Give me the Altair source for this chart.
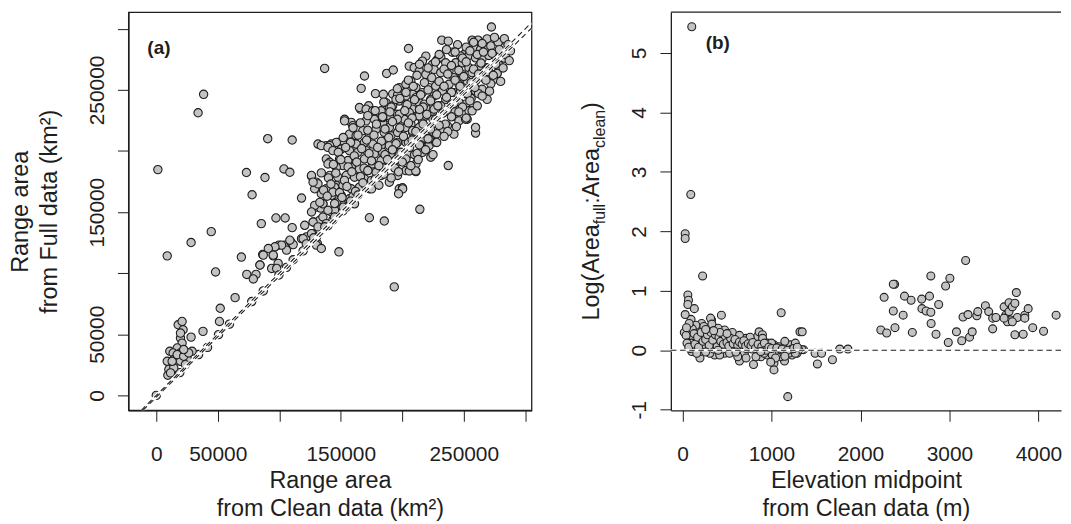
import altair as alt
import pandas as pd

# ---------------- Panel (a): range area, clean vs full (km2) ----------------
a_clean = [
    272500, 232100, 237400, 256800, 261700, 269000, 205100, 136900, 38500, 34000,
    1300, 90600, 110500, 73300, 88400, 103800, 108600, 77900, 118100, 237400,
    214300, 169300, 166600, 187300, 192700, 178200, 184600, 192200, 196200, 172700,
    166000, 153100, 158500, 131500, 138300, 142300, 147700, 138300, 141000, 126200,
    130200, 128800, 134200, 142800, 135500, 130200, 146400, 259600, 277100, 203000,
    211100, 197600, 200200, 173300, 185400,
    8900, 28300, 44700, 48200, 69200, 85400, 97300, 104800, 110500, 86500,
    95100, 99100, 93800, 97900, 84300, 81100, 73600, 78900, 99700, 104600,
    105900, 109400, 111300, 118100, 122100, 127000, 131000, 127800, 132900, 135500,
    133700, 142300, 145000, 151700, 161200, 148500, 193500,
    0, 19100, 34400, 41700, 50600, 59500, 77600, 87000, 99700, 105900,
    111300, 119400, 130200, 139600, 143600, 151700,
    17800, 21000, 21800, 19700, 28300, 21000, 17000, 11000, 13700, 19700,
    23700, 29100, 8900, 14200, 19700, 25100, 10200, 14200, 9400, 11600,
    38000, 52000, 51400, 64100, 23700, 12900, 17000, 22300, 26400, 19700, 22300,
    267700, 259600, 263600, 240700, 250100, 247500, 254200, 259600, 264900, 270400,
    275800, 281100, 219200, 216400, 228500, 231300, 224500, 235300, 243400, 248800,
    254200, 262300, 269000, 277100, 274400, 267700, 262300, 256800, 205700, 209700,
    213800, 219200, 225900, 231300, 238000, 242000, 248800, 252800, 246100, 238000,
    197600, 203000, 207000, 211100, 208400, 216400, 221800, 227200, 232600, 225900,
    235300, 242000, 247500, 252800, 259600, 264900, 186800, 192200, 197600, 203000,
    208400, 213800, 219200, 224500, 231300, 236700, 242000, 246100, 251500, 254200,
    246100, 252800, 259600, 181400, 188100, 194900, 201600, 207000, 212400, 216400,
    221800, 227200, 231300, 236700, 242000, 223200, 215100, 208400, 197600, 189500,
    184100,
    165200, 170600, 176000, 182800, 189500, 194900, 203000, 211100, 217800, 223200,
    225900, 219200, 213800, 205700, 197600, 189500, 184100, 177300, 170600, 153100,
    159800, 157100, 162500, 167900, 173300, 178700, 185400, 190800, 196200, 203000,
    208400, 213800, 220500, 224500, 216400, 209700, 203000, 196200, 189500, 182800,
    176000, 169300, 162500, 157100, 151700, 146400, 141000, 134200, 139600, 143600,
    150400, 157100, 163800, 170600, 177300, 184100, 190800, 197600, 205700, 211100,
    216400, 223200, 221800, 227200, 149000, 155800, 162500, 169300, 176000, 182800,
    189500, 196200, 203000, 211100, 178700, 171900, 165200, 158500, 151700, 146400,
    139600, 141000, 147700, 154500, 161200, 169300, 176000, 182800, 189500, 196200,
    173300, 165200, 158500, 151700, 145000, 138300, 131500, 126200, 127500, 143600,
    150400, 157100, 162500, 146400, 154500, 134200, 135500, 139600, 128800, 126200,
    120700, 127500, 131500, 138300, 119400, 126200, 108600, 101900, 96500, 91100,
    87000, 95100, 84300, 130200, 134200, 205700, 211000, 200300, 197000,
    160000, 170000, 175000, 185000, 195000, 205000, 215000, 225000, 240000, 250000,
    260000, 270000, 280000, 287000, 152000, 145000, 137000, 128000, 122000,
    256800, 251500, 269000,
    215000, 228000, 243000, 256000, 262000, 272000, 279000, 283000, 235000, 246000,
    268000, 222000, 210000,
    245000, 252000, 258000, 265000, 272000, 278000, 283000, 286000, 275000,
    230000, 236000, 243000, 249000, 255000, 261000, 266000, 273000, 279000, 284000, 288000,
    214000, 221000, 227000, 234000, 240000, 246000, 252000, 258000, 264000, 270000, 276000, 282000, 287000,
    205000, 212000, 218000, 224000, 230000, 237000, 243000, 250000, 256000, 262000, 268000, 274000, 280000,
    196000, 203000, 209000, 215000, 221000, 228000, 234000, 240000, 247000, 253000, 259000, 265000, 271000,
    185000, 191000, 198000, 204000, 210000, 217000, 223000, 229000, 236000, 242000, 249000, 255000, 261000,
    172000, 178000, 184000, 190000, 196000, 202000, 208000, 214000, 220000, 227000, 233000, 240000, 246000, 252000,
    160000, 166000, 172000, 179000, 186000, 192000, 198000, 205000, 211000, 217000, 223000, 230000, 237000, 244000,
    152000, 158000, 164000, 171000, 177000, 183000, 189000, 195000, 201000, 208000, 214000, 221000, 228000, 234000,
    148000, 154000, 161000, 167000, 173000, 180000, 186000, 192000, 199000, 206000, 212000, 219000, 225000,
    144000, 150000, 156000, 163000, 169000, 175000, 181000, 188000, 194000, 200000, 207000, 213000,
    140000, 146000, 153000, 159000, 166000, 172000, 178000, 185000, 191000, 197000,
    136000, 142000, 149000, 155000, 162000, 168000, 175000, 181000,
    133000, 139000, 145000, 151000, 158000, 164000,
]
a_full = [
    301500, 290700, 289900, 290700, 290700, 291800, 283900, 267600, 246400, 231300,
    184800, 210100, 209000, 182400, 178300, 185300, 182600, 164200, 161500, 188100,
    152300, 261400, 251300, 263500, 266300, 247000, 246400, 246800, 246000, 237000,
    234200, 226000, 223400, 205700, 204400, 205700, 207100, 193500, 190800, 179400,
    174500, 169100, 182100, 163700, 156800, 154100, 171800, 214700, 263500, 184000,
    183200, 169100, 169900, 145400, 142700,
    114200, 125100, 134000, 101000, 113200, 140600, 145200, 145200, 137300, 115300,
    114200, 108000, 103900, 103900, 106700, 99000, 99000, 95300, 123000, 123000,
    118900, 125600, 123400, 128300, 129700, 132400, 124300, 141900, 143300, 146000,
    153300, 150100, 151500, 155500, 156800, 117500, 88800,
    0, 18600, 33400, 39300, 49700, 58300, 76800, 85500, 98500, 104800,
    111000, 118300, 129500, 139000, 143600, 151000,
    57800, 60500, 53700, 46900, 47700, 42800, 38800, 36100, 34700, 34700,
    34700, 36100, 27900, 29300, 27900, 30600, 21200, 22500, 16500, 18400,
    52400, 71300, 60500, 80000, 25200, 27900, 33400, 32000, 34700, 51000, 37500,
    284400, 283600, 283100, 280900, 279000, 277700, 278200, 276300, 275500, 278200,
    277700, 284400, 277700, 273600, 274900, 276900, 270800, 272200, 272200, 272200,
    268200, 269500, 268200, 263500, 258600, 258600, 261400, 264100, 269500, 268200,
    265500, 262700, 266800, 264100, 265500, 260000, 262700, 257300, 254600, 254600,
    251900, 254600, 257300, 251900, 246400, 247800, 251900, 253200, 249200, 245100,
    242300, 247800, 249200, 246400, 249200, 250500, 239600, 237000, 241000, 238300,
    234200, 239600, 235600, 231500, 237000, 232900, 228800, 235600, 238300, 232900,
    224700, 226000, 219300, 231500, 227400, 230100, 226000, 222000, 228800, 223400,
    219300, 224700, 217900, 220700, 213800, 211200, 212500, 215200, 217900, 219300,
    223400,
    235600, 234200, 232900, 232900, 235600, 242300, 245100, 243700, 238300, 242300,
    234200, 228800, 228800, 231500, 230100, 228800, 227400, 226000, 224700, 224700,
    220700, 213800, 212500, 216600, 213800, 217900, 215200, 212500, 215200, 219300,
    216600, 219300, 216600, 212500, 209700, 208400, 207000, 207000, 204400, 204400,
    205700, 207100, 205700, 207100, 208400, 207100, 204400, 204400, 203000, 200300,
    201600, 200300, 198900, 200300, 197600, 198900, 196200, 198900, 197600, 196200,
    198900, 194900, 204400, 207100, 193500, 192200, 190800, 193500, 189400, 192200,
    189400, 190800, 193500, 189400, 182600, 184000, 185300, 186700, 188100, 186700,
    189400, 180000, 178600, 180000, 178600, 177200, 175900, 180000, 174500, 180000,
    169100, 170400, 169100, 171800, 170400, 169100, 173100, 180000, 174500, 166400,
    163700, 160900, 165000, 158200, 154100, 165000, 156800, 151500, 155500, 150100,
    139200, 141900, 137900, 140600, 128300, 132400, 127000, 123000, 121600, 120200,
    114800, 114800, 106700, 123000, 120200, 183700, 183700, 169000, 165000,
    163000, 172000, 176000, 186000, 193000, 207000, 214000, 226000, 238000, 250000,
    258000, 268000, 279000, 286000, 154000, 146000, 138000, 129000, 124000,
    232900, 226000, 242300,
    205000, 214000, 232000, 243000, 247000, 255000, 270000, 276000, 222000, 240000,
    262000, 210000, 197000,
    287000, 285000, 289000, 288000, 286000, 289000, 292000, 287000, 293000,
    279000, 283000, 281000, 276000, 282000, 279000, 281000, 280000, 283000, 279000, 282000,
    271000, 268000, 273000, 267000, 270000, 266000, 273000, 267000, 272000, 265000, 271000, 268000, 274000,
    258000, 262000, 256000, 260000, 257000, 263000, 258000, 261000, 256000, 263000, 258000, 262000, 257000,
    251000, 248000, 253000, 246000, 250000, 246000, 253000, 248000, 253000, 247000, 252000, 245000, 249000,
    240000, 236000, 243000, 238000, 242000, 236000, 241000, 237000, 244000, 239000, 236000, 241000, 237000,
    229000, 233000, 228000, 232000, 226000, 233000, 227000, 234000, 230000, 226000, 231000, 228000, 232000, 227000,
    219000, 223000, 217000, 222000, 218000, 224000, 219000, 223000, 216000, 222000, 218000, 221000, 216000, 220000,
    211000, 207000, 213000, 209000, 213000, 208000, 211000, 206000, 212000, 209000, 205000, 210000, 207000, 212000,
    199000, 203000, 196000, 202000, 198000, 203000, 197000, 201000, 199000, 203000, 198000, 201000, 197000,
    189000, 193000, 187000, 191000, 186000, 192000, 188000, 193000, 186000, 191000, 188000, 193000,
    178000, 182000, 176000, 183000, 179000, 184000, 177000, 181000, 178000, 183000,
    168000, 173000, 166000, 171000, 167000, 174000, 169000, 172000,
    158000, 163000, 157000, 162000, 159000, 164000,
]

# reference lines of panel (a): 1:1 line and fitted line
one_x = [-12200, 305100]
one_y = [-12200, 305100]
fit_x = [-10800, 305100]
fit_y = [-12200, 300550]

# ---------------- Panel (b): elevation midpoint vs log ratio ----------------
b_elev = [
    104, 93, 30, 30, 226, 60, 67, 60, 133, 96, 326, 437, 1109, 1320, 1345,
    60, 104, 177, 271, 399, 473,
    122, 160, 196, 252, 307, 362, 418, 473, 529, 603, 659, 732, 806, 861, 880,
    954, 1028, 1083, 1157, 1213, 1268, 1360,
    104, 196, 362, 473, 640, 798, 880, 1028, 1028, 1146, 1286, 1490, 1516, 1563,
    1685, 1767, 1859, 548, 695, 954, 1102, 1231, 1183,
    315, 215, 271, 399, 307, 399, 492, 714, 843, 861, 898,
    1342, 1139, 1028, 935, 825, 714, 603, 492, 381, 271, 104, 85, 196, 307, 418,
    529, 621, 714, 825, 917, 1009, 1046, 1194, 991, 1305, 1268,
    150, 240, 330, 560, 640, 760, 900, 1000, 1150, 650, 780, 870, 1100, 1230,
    450, 350, 250, 150, 560,
    20, 40, 50, 70, 80, 110, 130, 140, 170, 180, 210, 230, 260, 280, 300, 320,
    340, 370, 390, 410, 430, 460, 480, 500, 520, 540, 570, 590, 620, 640, 670,
    690, 710, 740, 770, 790, 820, 850, 890, 920, 940, 970, 1000, 1060, 1120, 1180,
    1250, 1290, 30, 75, 45, 160, 260, 400, 600, 880, 1150, 420, 260, 500, 350,
    3182, 2791, 3005, 2957, 2384, 2369, 2266, 2495, 2569, 2688, 2776, 2879, 2691,
    2738, 2791, 2369, 2480, 2794, 2229, 2295, 2388, 2583, 2849, 2987, 3079, 3138,
    3226, 3256, 3153, 3209, 3308, 3319, 3404, 3441, 3486, 3486, 3522, 3614, 3633,
    3670, 3670, 3689, 3707, 3736, 3752, 3763, 3652, 3614, 3707, 3847, 3885, 3847,
    3736, 3829, 3936, 4058, 4199,
]
b_logratio = [
    5.44, 2.62, 1.96, 1.88, 1.25, 0.93, 0.84, 0.77, 0.70, 0.52, 0.51, 0.59, 0.63, 0.31, 0.31,
    0.31, 0.31, 0.34, 0.31, 0.34, 0.34,
    0.20, 0.26, 0.17, 0.23, 0.15, 0.20, 0.12, 0.17, 0.15, 0.12, 0.15, 0.19, 0.12, 0.28, 0.15,
    0.12, 0.09, 0.06, 0.06, 0.09, 0.12, 0.01,
    -0.02, -0.13, -0.08, -0.05, -0.18, -0.24, -0.11, -0.22, -0.33, -0.18, -0.05, -0.05, -0.23, -0.05,
    -0.16, 0.02, 0.02, -0.02, -0.05, -0.08, -0.11, -0.08, -0.78,
    0.54, 0.45, 0.37, 0.37, 0.23, 0.20, 0.20, 0.20, 0.23, 0.31, 0.26,
    0.01, -0.05, 0.06, 0.03, 0.06, 0.03, 0.06, 0.09, 0.12, 0.09, 0.12, 0.03, -0.02, -0.05, -0.08,
    -0.05, -0.11, -0.13, -0.11, -0.05, -0.08, -0.13, -0.05, -0.20, 0.01, -0.05,
    0.42, 0.40, 0.44, 0.30, 0.25, 0.22, 0.20, 0.12, 0.15, 0.05, 0.02, 0.05, 0.02, 0.02,
    0.02, 0.02, 0.05, 0.05, 0.08,
    0.30, 0.25, 0.12, 0.05, 0.40, 0.36, 0.28, 0.10, 0.22, 0.05, 0.30, 0.15, 0.18, 0.26, 0.08, 0.30,
    0.17, 0.26, 0.06, 0.22, 0.15, 0.10, 0.24, 0.13, 0.07, 0.20, 0.11, 0.18, 0.08, 0.14, 0.10,
    0.16, 0.07, 0.11, 0.08, 0.13, 0.03, 0.10, 0.06, 0.12, 0.00, 0.05, 0.03, 0.04, 0.02, 0.00,
    0.03, 0.05, 0.60, 0.45, 0.38, -0.05, -0.03, 0.00, -0.03, -0.02, -0.10, 0.30, 0.35, 0.28, 0.33,
    1.51, 1.25, 1.21, 1.08, 1.11, 1.11, 0.89, 0.91, 0.84, 0.86, 0.91, 0.77, 0.70,
    0.66, 0.64, 0.66, 0.59, 0.45, 0.34, 0.29, 0.38, 0.30, 0.27, 0.13, 0.31, 0.16,
    0.22, 0.31, 0.56, 0.60, 0.58, 0.65, 0.75, 0.65, 0.54, 0.36, 0.55, 0.73, 0.59,
    0.80, 0.65, 0.51, 0.73, 0.79, 0.97, 0.55, 0.48, 0.54, 0.48, 0.59, 0.70, 0.54,
    0.26, 0.27, 0.38, 0.32, 0.59,
]

# y-axis title pieces of panel (b)
b_title_text = ["Log(Area", "full", ":Area", "clean", ")"]
b_title_size = [23.5, 16, 23.5, 16, 23.5]

# ------------------------------------------------------------------
FONT = "Liberation Sans"
INK = "#1e1e1e"
PT_FILL = "#c3c3c3"

A_W, A_H = 405, 400
B_W, B_H = 392, 400
A_X = [-22640, 305100]
A_Y = [-12220, 313620]
B_X = [-131, 4254]
B_Y = [-1.01, 5.685]

a_df = pd.DataFrame({"clean": a_clean, "full": a_full})
b_df = pd.DataFrame({"elev": b_elev, "ratio": b_logratio})
lines_df = pd.DataFrame({
    "x": one_x + fit_x,
    "y": one_y + fit_y,
    "g": ["one", "one", "fit", "fit"],
})

a_ticks = [0, 50000, 100000, 150000, 200000, 250000, 300000]
hide_expr = "(datum.value == 100000 || datum.value == 200000 || datum.value == 300000) ? '' : datum.label"

common_axis = dict(
    grid=False, tickSize=11, tickWidth=1, tickColor=INK,
    domainColor=INK, domainWidth=1.3,
    labelFont=FONT, labelFontSize=21, labelColor=INK,
    titleFont=FONT, titleFontSize=23.5, titleFontWeight="normal", titleColor=INK,
    labelOverlap=False, labelFlush=False, labelBound=False,
)

X_LABEL_PAD = 39
X_TITLE_Y = 78
X_TITLE_LH = 28

ax_a_x = alt.Axis(
    values=a_ticks, format="d", labelExpr=hide_expr,
    labelBaseline="alphabetic", labelPadding=X_LABEL_PAD, labelAlign="center",
    title=["Range area", "from Clean data (km²)"],
    titleBaseline="alphabetic", titleY=X_TITLE_Y, titleLineHeight=X_TITLE_LH, titleAlign="center",
    **common_axis,
)
ax_a_y = alt.Axis(
    values=a_ticks, format="d", labelExpr=hide_expr,
    labelAngle=270, labelAlign="center", labelBaseline="alphabetic", labelPadding=14.5,
    title=["Range area", "from Full data (km²)"],
    titleAngle=270, titleAlign="center", titleBaseline="alphabetic",
    titleX=-101.2, titleY=A_H / 2, titleLineHeight=28.5,
    **common_axis,
)

xa = alt.X("clean:Q", scale=alt.Scale(domain=A_X, nice=False, zero=False), axis=ax_a_x)
ya = alt.Y("full:Q", scale=alt.Scale(domain=A_Y, nice=False, zero=False), axis=ax_a_y)

pts_a = alt.Chart(a_df).mark_circle(
    size=70, color=PT_FILL, opacity=1, stroke=INK, strokeWidth=1.1
).encode(x=xa, y=ya)

line_white = alt.Chart(lines_df).mark_line(color="white", strokeWidth=3, clip=True).encode(
    x=alt.X("x:Q"), y=alt.Y("y:Q"), detail="g:N")
line_dash = alt.Chart(lines_df).mark_line(
    color=INK, strokeWidth=1.1, strokeDash=[5.5, 3.7], clip=True
).encode(x=alt.X("x:Q"), y=alt.Y("y:Q"), detail="g:N")

lab_a = alt.Chart(pd.DataFrame({"t": ["(a)"]})).mark_text(
    font=FONT, fontSize=19, fontWeight="bold", color=INK, align="left", baseline="alphabetic"
).encode(text="t:N", x=alt.value(19), y=alt.value(42))

panel_a = alt.layer(pts_a, line_white, line_dash, lab_a).properties(
    width=A_W, height=A_H,
    view=alt.ViewBackground(stroke=INK, strokeWidth=1.3, fill="white"),
)

# ---------------- panel (b) ----------------
ax_b_x = alt.Axis(
    values=[0, 1000, 2000, 3000, 4000], format="d",
    labelBaseline="alphabetic", labelPadding=X_LABEL_PAD, labelAlign="center",
    title=["Elevation midpoint", "from Clean data (m)"],
    titleBaseline="alphabetic", titleY=X_TITLE_Y, titleLineHeight=X_TITLE_LH, titleAlign="center",
    **common_axis,
)
ax_b_y = alt.Axis(
    values=[-1, 0, 1, 2, 3, 4, 5], labelExpr="'' + datum.value",
    labelAngle=270, labelAlign="center", labelBaseline="alphabetic", labelPadding=14.5,
    title=None,
    **common_axis,
)
xb = alt.X("elev:Q", scale=alt.Scale(domain=B_X, nice=False, zero=False), axis=ax_b_x)
yb = alt.Y("ratio:Q", scale=alt.Scale(domain=B_Y, nice=False, zero=False), axis=ax_b_y)

pts_b = alt.Chart(b_df).mark_circle(
    size=64, color=PT_FILL, opacity=1, stroke=INK, strokeWidth=1.1
).encode(x=xb, y=yb)

zero_df = pd.DataFrame({"ratio": [0.0]})
zero_white = alt.Chart(zero_df).mark_rule(color="white", strokeWidth=2.5).encode(y="ratio:Q")
zero_dash = alt.Chart(zero_df).mark_rule(
    color=INK, strokeWidth=1.1, strokeDash=[5.5, 3.7]).encode(y="ratio:Q")
top_df = pd.DataFrame({"ratio": [B_Y[1]]})
top_rule = alt.Chart(top_df).mark_rule(color=INK, strokeWidth=1.3).encode(y="ratio:Q")

lab_b = alt.Chart(pd.DataFrame({"t": ["(b)"]})).mark_text(
    font=FONT, fontSize=19, fontWeight="bold", color=INK, align="left", baseline="alphabetic"
).encode(text="t:N", x=alt.value(35), y=alt.value(36.5))

def text_width(s, size):
    w = {"L": .556, "o": .556, "g": .556, "(": .333, ")": .333, "A": .667, "r": .333,
         "e": .556, "a": .556, ":": .278, "f": .278, "u": .556, "l": .222, "c": .5, "n": .556}
    return sum(w[c] for c in s) * size

total = sum(text_width(t, s) for t, s in zip(b_title_text, b_title_size))
pos = B_H / 2 + total / 2
title_layers = []
for t, s in zip(b_title_text, b_title_size):
    sub = s < 20
    title_layers.append(
        alt.Chart(pd.DataFrame({"t": [t]})).mark_text(
            font=FONT, fontSize=s, color=INK, angle=270, align="left", baseline="alphabetic"
        ).encode(text="t:N", x=alt.value(-66.5 if sub else -72.5), y=alt.value(pos))
    )
    pos -= text_width(t, s)

panel_b = alt.layer(pts_b, zero_white, zero_dash, top_rule, lab_b, *title_layers).properties(
    width=B_W, height=B_H,
    view=alt.ViewBackground(stroke="transparent", fill="white"),
)

chart = alt.hconcat(panel_a, panel_b, spacing=46).properties(
    padding={"left": 0, "top": 1, "right": 0, "bottom": 0},
    background="white",
).resolve_scale(x="independent", y="independent")

chart.save("out.html", embed_options={"renderer": "svg", "actions": False})
